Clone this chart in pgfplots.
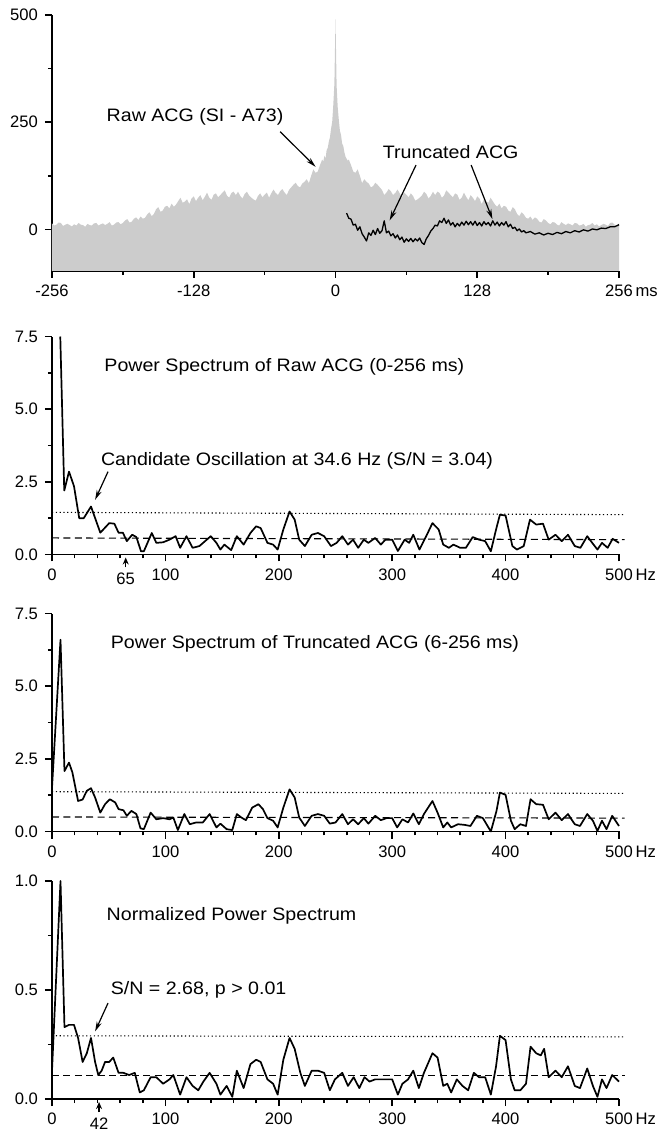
\documentclass[border=0pt]{standalone}
\usepackage{fontspec}
\setmainfont{Liberation Sans}
\newfontfamily\labfont{Liberation Sans}[FakeStretch=1.09]
\usepackage{pgfplots}
\pgfplotsset{compat=1.18}
\usetikzlibrary{arrows.meta}
\newcommand\ticksize{\fontsize{8.3}{10}\selectfont}
\newcommand\labsize{\labfont\fontsize{9}{11}\selectfont}
\tikzset{
  arr/.style={-{Stealth[length=5pt,width=2.6pt]}, line width=0.6pt},
  uparr/.style={-{Stealth[length=3.5pt,width=3pt]}, line width=0.6pt},
}
\pgfplotsset{
  myax/.style={
    scale only axis, width=283.5pt,
    axis x line*=bottom, axis y line*=left,
    tick align=outside,
    major tick length=3.5pt, minor tick length=2pt,
    axis line style={line width=0.9pt},
    every tick/.style={line width=0.8pt, black},
    every minor tick/.style={line width=0.8pt, black},
    ticklabel style={font=\ticksize},
    clip=false,
  },
  spec/.style={myax, height=109pt, xmin=0, xmax=500,
    xtick={0,100,200,300,400,500},
    xticklabels={0,100,200,300,400,500\rlap{\,Hz}},
    minor x tick num=4},
  curve/.style={black, line width=0.85pt, line join=round},
  dotl/.style={black, line width=0.55pt, dash pattern=on 0.6pt off 1.3pt},
  dashl/.style={black, line width=0.55pt, dash pattern=on 3.5pt off 2.2pt},
}
\begin{document}
\begin{tikzpicture}
\useasboundingbox (0,0) rectangle (332.5pt,566pt);
% ---------------- Panel 1: ACG ----------------
\begin{axis}[myax, at={(26pt,430.5pt)}, anchor=south west, height=128pt,
  xmin=-256, xmax=256, ymin=-97, ymax=500,
  xtick={-256,-128,0,128,256}, xticklabels={-256,-128,0,128,256\rlap{\,ms}},
  minor xtick={-192,-64,64,192},
  ytick={0,250,500}, yticklabels={0,250,500}, minor ytick={125,375}]
\addplot[fill=black!20, draw=none] coordinates {
(-256,-97) (-256,14) (-254,9) (-252,11) (-250,16) (-248,15) (-246,8) (-244,11)
(-242,13) (-240,10) (-238,7) (-236,12) (-234,9) (-232,15) (-230,11) (-228,10)
(-226,6) (-224,13) (-222,10) (-220,9) (-218,14) (-216,15) (-214,9) (-212,12)
(-210,14) (-208,10) (-206,13) (-204,17) (-202,9) (-200,11) (-198,16) (-196,17)
(-194,12) (-192,15) (-190,21) (-188,24) (-186,16) (-184,18) (-182,25) (-180,28)
(-178,22) (-176,30) (-174,25) (-172,27) (-170,35) (-168,40) (-166,31) (-164,36)
(-162,47) (-160,52) (-158,41) (-156,44) (-154,53) (-152,55) (-150,49) (-148,60)
(-146,53) (-144,58) (-142,66) (-140,74) (-138,62) (-136,65) (-134,70) (-132,59)
(-130,72) (-128,77) (-126,66) (-124,74) (-122,80) (-120,68) (-118,76) (-116,86)
(-114,74) (-112,69) (-110,81) (-108,84) (-106,75) (-104,80) (-102,86) (-100,91)
(-98,79) (-96,74) (-94,85) (-92,88) (-90,80) (-88,88) (-86,78) (-84,72) (-82,83)
(-80,88) (-78,79) (-76,74) (-74,70) (-72,67) (-70,78) (-68,84) (-66,75) (-64,81)
(-62,86) (-60,74) (-58,84) (-56,93) (-54,85) (-52,80) (-50,89) (-48,94) (-46,86)
(-44,80) (-42,92) (-40,98) (-38,104) (-36,109) (-34,101) (-32,98) (-30,107)
(-28,111) (-26,117) (-24,108) (-22,125) (-20,140) (-18,132) (-16,135) (-14,150)
(-12,163) (-11,158) (-10,172) (-9,165) (-8,185) (-7,190) (-6,205) (-5,215)
(-4,235) (-3,250) (-2,290) (-1,340) (0,490) (1,335) (2,285) (3,255) (4,230)
(5,220) (6,200) (7,195) (8,180) (9,170) (10,165) (11,160) (12,163) (14,150)
(16,135) (18,132) (20,140) (22,125) (24,108) (26,117) (28,111) (30,107) (32,98)
(34,101) (36,109) (38,104) (40,98) (42,92) (44,80) (46,86) (48,94) (50,89)
(52,80) (54,85) (56,93) (58,84) (60,74) (62,86) (64,81) (66,75) (68,84) (70,78)
(72,67) (74,70) (76,74) (78,79) (80,88) (82,83) (84,72) (86,78) (88,88) (90,80)
(92,88) (94,85) (96,74) (98,79) (100,91) (102,86) (104,80) (106,75) (108,84)
(110,81) (112,69) (114,74) (116,86) (118,76) (120,68) (122,80) (124,74) (126,66)
(128,77) (130,72) (132,59) (134,70) (136,65) (138,62) (140,74) (142,66) (144,58)
(146,53) (148,60) (150,49) (152,55) (154,53) (156,44) (158,41) (160,52) (162,47)
(164,36) (166,31) (168,40) (170,35) (172,27) (174,25) (176,30) (178,22) (180,28)
(182,25) (184,18) (186,16) (188,24) (190,21) (192,15) (194,12) (196,17) (198,16)
(200,11) (202,9) (204,17) (206,13) (208,10) (210,14) (212,12) (214,9) (216,15)
(218,14) (220,9) (222,10) (224,13) (226,6) (228,10) (230,11) (232,15) (234,9)
(236,12) (238,7) (240,10) (242,13) (244,11) (246,8) (248,15) (250,16) (252,11)
(254,9) (256,14) (256,-97)};
\addplot[black, line width=0.65pt, line join=round] coordinates {
(10,38) (12,26) (14,24) (16,10) (18,12) (20,-2) (22,6) (24,-10) (26,-18) (28,-27)
(30,-8) (32,-14) (34,-2) (36,-12) (38,2) (40,-9) (42,-3) (44,20) (46,-8) (48,-4)
(50,-15) (52,-10) (54,-20) (56,-13) (58,-24) (60,-18) (62,-30) (64,-22) (66,-28)
(68,-21) (70,-29) (72,-22) (74,-27) (76,-20) (78,-31) (80,-35) (82,-22) (84,-14)
(86,-4) (88,2) (90,10) (92,8) (94,20) (96,16) (98,26) (100,14) (102,22) (104,10)
(106,16) (108,6) (110,14) (112,8) (114,17) (116,10) (118,19) (120,11) (122,18)
(124,10) (126,19) (128,9) (130,16) (132,8) (134,18) (136,11) (138,16) (140,8)
(142,20) (144,10) (146,17) (148,8) (150,16) (152,10) (154,18) (156,6) (158,12)
(160,2) (162,5) (164,-3) (166,1) (168,-6) (170,-3) (172,-8) (176,-5) (180,-11)
(184,-8) (188,-13) (192,-9) (196,-12) (200,-7) (204,-10) (208,-5) (212,-8)
(216,-3) (220,-6) (224,-1) (228,-4) (232,1) (236,-1) (240,3) (244,2) (248,6)
(252,6) (256,11)};
\node[anchor=west, font=\labsize] at (axis cs:-213,263) {Raw ACG (SI - A73)};
\draw[arr] (axis cs:-50,228) -- (axis cs:-18,146);
\node[font=\labsize] at (axis cs:104,181) {Truncated ACG};
\draw[arr] (axis cs:72.7,150) -- (axis cs:48.9,21);
\draw[arr] (axis cs:122.5,150) -- (axis cs:141.7,24);
\end{axis}
% ---------------- Panel 2 ----------------
\begin{axis}[spec, at={(26pt,288.75pt)}, anchor=south west,
  ymin=0, ymax=7.5, ytick={0,2.5,5,7.5}, yticklabels={0.0,2.5,5.0,7.5}, minor y tick num=1]
\addplot[dotl] coordinates {(0,1.45) (505,1.37)};
\addplot[dashl] coordinates {(0,0.57) (505,0.51)};
\addplot[curve] coordinates {
(7.3,7.5) (10.8,2.2) (15,2.85) (19.4,2.35) (24,1.25) (28,1.25) (34.4,1.65) (42.6,0.75)
(50.5,1.08) (55,1.06) (58.7,0.75) (62.5,0.75) (66,0.46) (70.7,0.68) (74.4,0.6) (78.5,0.11)
(81,0.11) (88,0.74) (92,0.4) (98,0.42) (103.6,0.51) (109,0.63) (113,0.23) (118.6,0.63)
(124,0.23) (130,0.29) (135,0.46) (140,0.63) (145,0.4) (148.5,0.17) (152,0.34) (158,0.15)
(163,0.63) (169,0.34) (175,0.74) (180,0.97) (184,0.91) (190,0.4) (195,0.34) (199,0.17)
(204,0.86) (209.5,1.48) (214,1.2) (218,0.51) (223,0.29) (229,0.68) (234.5,0.74) (240,0.63)
(246,0.29) (251,0.4) (256,0.63) (261,0.34) (265.5,0.51) (270,0.23) (275,0.51) (279,0.4)
(285,0.57) (290,0.34) (294,0.51) (300,0.51) (305,0.12) (311,0.51) (315,0.4) (318.6,0.68)
(324,0.17) (330,0.63) (335.5,1.08) (341,0.86) (345,0.34) (350,0.23) (354,0.34) (360,0.23)
(365,0.23) (371,0.6) (376.6,0.51) (382,0.46) (387,0.11) (391.6,0.86) (395,1.37) (400,1.34)
(406,0.29) (410,0.17) (416,0.29) (421.5,1.2) (427,1.03) (433,1.06) (438,0.51) (444,0.68)
(449.5,0.46) (455,0.68) (461,0.29) (466,0.23) (472,0.63) (477.6,0.34) (481,0.17) (485,0.4)
(490,0.23) (494.4,0.54) (500,0.4)};
\node[anchor=west, font=\labsize] at (axis cs:40,6.45) {Power Spectrum of Raw ACG (0-256 ms)};
\node[anchor=west, font=\labsize] at (axis cs:37,3.22) {Candidate Oscillation at 34.6 Hz (S/N = 3.04)};
\draw[arr] (axis cs:49.4,2.85) -- (axis cs:38,1.88);
\draw[uparr] (axis cs:65,0) ++(0,-6.5pt) -- ++(0,5pt);
\node[font=\ticksize] at (axis cs:65,0) [yshift=-12.3pt] {65};
\end{axis}
% ---------------- Panel 3 ----------------
\begin{axis}[spec, at={(26pt,150.25pt)}, anchor=south west,
  ymin=0, ymax=7.5, ytick={0,2.5,5,7.5}, yticklabels={0.0,2.5,5.0,7.5}, minor y tick num=1]
\addplot[dotl] coordinates {(0,1.37) (505,1.31)};
\addplot[dashl] coordinates {(0,0.5) (505,0.46)};
\addplot[curve] coordinates {
(0,1.5) (7.5,6.6) (11,2.08) (15,2.37) (18,2.03) (23,1.05) (27,1.1) (30.7,1.4) (34.4,1.49)
(38,1.17) (42.6,0.65) (46.8,0.94) (51,1.11) (55.7,1.0) (58.7,0.77) (63,0.73) (66,0.54)
(70,0.71) (74.4,0.6) (78,0.11) (81,0.08) (87,0.65) (92,0.42) (98,0.46) (103.6,0.42)
(107,0.48) (111,0.05) (116.7,0.6) (121.5,0.25) (127,0.31) (133,0.31) (139,0.6) (145,0.14)
(148.5,0.27) (154,0.08) (159,0.05) (163,0.6) (167,0.48) (171,0.39) (176.5,0.82) (182,0.94)
(186,0.77) (190,0.46) (195,0.37) (199,0.14) (204,0.82) (209.5,1.45) (214,1.17) (218,0.48)
(223,0.19) (229,0.54) (234.5,0.6) (240,0.54) (245,0.27) (250,0.31) (256,0.6) (261,0.25)
(265.5,0.42) (270,0.25) (275,0.46) (279,0.27) (285,0.54) (290,0.39) (295,0.46) (300,0.46)
(304.4,0.14) (309,0.42) (314,0.31) (318.6,0.62) (323.5,0.25) (328,0.6) (335.5,1.05)
(340,0.65) (345,0.14) (348.6,0.31) (352,0.14) (358,0.25) (363.5,0.23) (369,0.19)
(374.7,0.54) (380,0.46) (387,0.0) (392,0.71) (395,1.34) (400,1.26) (404.7,0.37) (408,0.08)
(413,0.25) (418,0.19) (422,1.11) (427,0.94) (433,0.92) (438,0.42) (444,0.65) (449.5,0.39)
(455,0.6) (461,0.25) (465.6,0.19) (472,0.6) (477,0.37) (481,0.02) (485,0.37) (489,0.08)
(494,0.54) (500,0.19)};
\node[anchor=west, font=\labsize] at (axis cs:45.6,6.44) {Power Spectrum of Truncated ACG (6-256 ms)};
\end{axis}
% ---------------- Panel 4 ----------------
\begin{axis}[spec, at={(26pt,16.5pt)}, anchor=south west,
  ymin=0, ymax=1, ytick={0,0.5,1}, yticklabels={0.0,0.5,1.0}, minor y tick num=1]
\addplot[dotl] coordinates {(0,0.29) (505,0.285)};
\addplot[dashl] coordinates {(0,0.107) (505,0.107)};
\addplot[curve] coordinates {
(0,0.13) (7.5,1.0) (11,0.33) (15,0.34) (19.4,0.34) (23,0.28) (27,0.17) (30.7,0.21)
(34.4,0.28) (38,0.17) (40.8,0.11) (43.8,0.13) (46.8,0.17) (50.5,0.17) (54,0.19) (58.7,0.12)
(63,0.12) (68,0.11) (73,0.12) (77.4,0.03) (81,0.04) (87,0.10) (92,0.10) (98,0.07)
(103.6,0.09) (107,0.11) (113,0.02) (118.6,0.10) (124,0.06) (129,0.04) (133.5,0.08) (139,0.12)
(145,0.07) (148.5,0.02) (154,0.06) (159,0.01) (163,0.13) (169,0.05) (175,0.16) (180,0.18)
(184,0.17) (190,0.09) (195,0.07) (199,0.02) (204,0.18) (209.5,0.28) (214,0.23) (219,0.12)
(223,0.06) (229,0.13) (234.5,0.13) (240,0.12) (245,0.04) (249.5,0.09) (256,0.12) (261,0.06)
(266,0.10) (271,0.05) (275.6,0.10) (280,0.08) (285,0.09) (290.6,0.09) (296,0.09) (300,0.09)
(305,0.02) (309,0.07) (314,0.09) (318.6,0.13) (323.5,0.05) (328,0.12) (335.5,0.21) (340,0.19)
(345,0.06) (348.6,0.07) (352,0.03) (357,0.09) (362,0.06) (367,0.04) (372,0.12) (376.6,0.10)
(382,0.10) (387,0.02) (391.6,0.15) (395,0.29) (400,0.27) (404.7,0.09) (408,0.04) (413,0.04)
(418,0.07) (422,0.24) (427,0.21) (431,0.20) (434,0.23) (438,0.10) (444,0.13) (449.5,0.10)
(455,0.15) (461,0.06) (465.6,0.05) (472,0.14) (477,0.06) (481,0.01) (485,0.09) (489,0.05)
(494,0.11) (500,0.08)};
\node[anchor=west, font=\labsize] at (axis cs:42,0.84) {Normalized Power Spectrum};
\node[anchor=west, font=\labsize] at (axis cs:45.6,0.50) {S/N = 2.68, p > 0.01};
\draw[arr] (axis cs:49.4,0.44) -- (axis cs:38,0.31);
\draw[uparr] (axis cs:41.5,0) ++(0,-6.5pt) -- ++(0,5pt);
\node[font=\ticksize] at (axis cs:41.5,0) [yshift=-12.3pt] {42};
\end{axis}
\end{tikzpicture}
\end{document}
